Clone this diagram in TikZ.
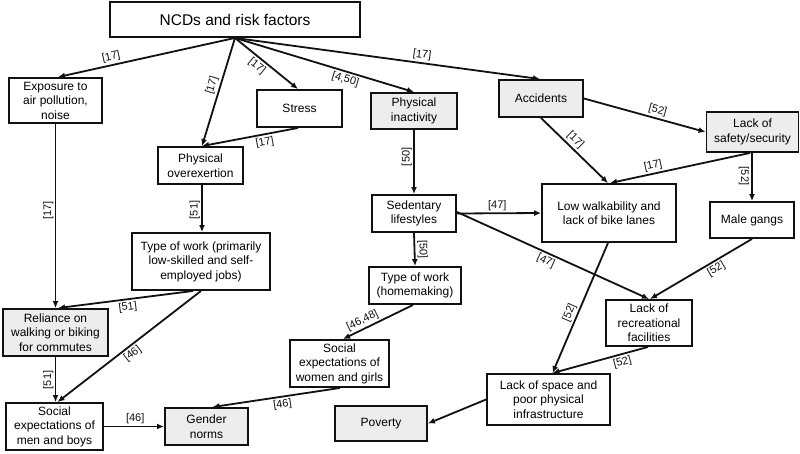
\documentclass[tikz,border=0pt]{standalone}
\usepackage{fontspec}
\setmainfont{Liberation Sans}
\usetikzlibrary{arrows.meta}
\definecolor{boxgray}{HTML}{EDEDED}
\definecolor{ink}{HTML}{111111}
\begin{document}
\begin{tikzpicture}[x=1pt,y=-1pt,
  box/.style={draw=ink, line width=1.9pt, align=center, inner sep=1pt, fill=white,
              font=\fontsize{12}{14.5}\selectfont},
  gbox/.style={box, fill=boxgray},
  arr/.style={draw=ink, -{Latex[length=7pt,width=6pt]}, line width=1.8pt},
  lbl/.style={font=\fontsize{11}{12}\selectfont, inner sep=2pt, text=ink}]
\useasboundingbox (0,0) rectangle (800,453);
\fill[white] (0,0) rectangle (800,453);

% nodes
\node[box, minimum width=250, minimum height=35, font=\fontsize{15.5}{18}\selectfont] (ncd) at (235,19.5) {NCDs and risk factors};
\node[box, minimum width=93, minimum height=45] (exp) at (55.5,100.5) {Exposure to\\air pollution,\\noise};
\node[box, minimum width=85, minimum height=37] (stress) at (299.5,108.5) {Stress};
\node[gbox, minimum width=86, minimum height=36] (inact) at (414,111) {Physical\\inactivity};
\node[gbox, minimum width=84, minimum height=37] (acc) at (541,98.5) {Accidents};
\node[gbox, minimum width=92, minimum height=40] (safety) at (752.5,132) {Lack of\\safety/security};
\node[box, minimum width=85, minimum height=37] (overex) at (200.5,165.5) {Physical\\overexertion};
\node[box, minimum width=84, minimum height=37] (sed) at (414,213.5) {Sedentary\\lifestyles};
\node[box, minimum width=134, minimum height=58] (walk) at (609,213) {Low walkability and\\lack of bike lanes};
\node[box, minimum width=84, minimum height=36] (gangs) at (752,220) {Male gangs};
\node[box, minimum width=138, minimum height=57] (typew) at (201,261.5) {Type of work (primarily\\low-skilled and self-\\employed jobs)};
\node[box, minimum width=92, minimum height=37] (home) at (415,285.5) {Type of work\\(homemaking)};
\node[gbox, minimum width=105, minimum height=47] (rel) at (55.5,332.5) {Reliance on\\walking or biking\\for commutes};
\node[box, minimum width=86, minimum height=46] (rec) at (649,323) {Lack of\\recreational\\facilities};
\node[box, minimum width=99, minimum height=47] (socw) at (339.5,363.5) {Social\\expectations of\\women and girls};
\node[box, minimum width=123, minimum height=51] (space) at (548.5,399.5) {Lack of space and\\poor physical\\infrastructure};
\node[box, minimum width=97, minimum height=47] (socm) at (54.5,426.5) {Social\\expectations of\\men and boys};
\node[gbox, minimum width=83, minimum height=37] (gender) at (206.5,426.5) {Gender\\norms};
\node[gbox, minimum width=92, minimum height=35] (poverty) at (381,423.5) {Poverty};

% connectors from NCDs
\draw[arr] (ncd.south) -- ([xshift=2.5pt]exp.north) node[lbl, pos=0.69, sloped, above] {[17]};
\draw[arr] (ncd.south) -- ([xshift=1.5pt]overex.north) node[lbl, pos=0.46, sloped, above] {[17]};
\draw[arr] (ncd.south) -- ([xshift=-1.5pt]stress.north) node[lbl, pos=0.43, sloped, below] {[17]};
\draw[arr] (ncd.south) -- (inact.north) node[lbl, pos=0.63, sloped, below] {[4,50]};
\draw[arr] (ncd.south) -- ([xshift=-1pt]acc.north) node[lbl, pos=0.61, sloped, above] {[17]};

\draw[arr] ([xshift=-1.5pt]stress.south) -- ([xshift=1.5pt]overex.north) node[lbl, pos=0.36, sloped, below] {[17]};
\draw[arr] (acc.east) -- (safety.west) node[lbl, pos=0.59, sloped, above] {[52]};
\draw[arr] (acc.south) -- ([xshift=-1pt]walk.north) node[lbl, pos=0.43, sloped, above] {[17]};
\draw[arr] ([xshift=-2.5pt]safety.south) -- ([xshift=1pt]walk.north) node[lbl, pos=0.68, sloped, above] {[17]};
\draw[arr] ([xshift=-0.5pt]safety.south) -- (gangs.north) node[lbl, pos=0.48, sloped, below] {[52]};

\draw[arr] (inact.south) -- (sed.north);
\path (sed.north) -- (inact.south) node[lbl, pos=0.58, sloped, above] {[50]};
\draw[arr] (sed.east) -- (walk.west) node[lbl, pos=0.48, above] {[47]};
\draw[arr] ([yshift=1.5pt]sed.east) -- (rec.north) node[lbl, pos=0.48, sloped, below] {[47]};
\draw[arr] (sed.south) -- (home.north) node[lbl, pos=0.51, sloped, above] {[50]};
\draw[arr] ([xshift=-2pt]home.south) -- ([xshift=3.5pt]socw.north) node[lbl, pos=0.67, sloped, above] {[46,48]};
\draw[arr] ([xshift=0.5pt]socw.south) -- ([xshift=6pt]gender.north) node[lbl, pos=0.46, sloped, below] {[46]};

\draw[arr] ([xshift=1.5pt]overex.south) -- ([xshift=1pt]typew.north);
\path ([xshift=1pt]typew.north) -- ([xshift=1.5pt]overex.south) node[lbl, pos=0.47, sloped, above] {[51]};
\draw[arr] (exp.south) -- (rel.north);
\path (rel.north) -- (exp.south) node[lbl, pos=0.53, sloped, above] {[17]};
\draw[arr] ([xshift=-8pt]typew.south) -- ([xshift=2.5pt]rel.north) node[lbl, pos=0.49, sloped, below] {[51]};
\draw[arr] (typew.south) -- ([xshift=3pt]socm.north) node[lbl, pos=0.51, sloped, below] {[46]};
\draw[arr] (rel.south) -- ([xshift=1pt]socm.north);
\path ([xshift=1pt]socm.north) -- (rel.south) node[lbl, pos=0.49, sloped, above] {[51]};
\draw[arr] (socm.east) -- (gender.west) node[lbl, pos=0.52, above] {[46]};

\draw[arr] (gangs.south) -- ([xshift=1pt]rec.north) node[lbl, pos=0.39, sloped, below] {[52]};
\draw[arr] ([xshift=-1pt]walk.south) -- ([xshift=4pt]space.north) node[lbl, pos=0.56, sloped, above] {[52]};
\draw[arr] ([xshift=-1pt]rec.south) -- ([xshift=4pt]space.north) node[lbl, pos=0.29, sloped, below] {[52]};
\draw[arr] (space.west) -- (poverty.east);
\end{tikzpicture}
\end{document}
